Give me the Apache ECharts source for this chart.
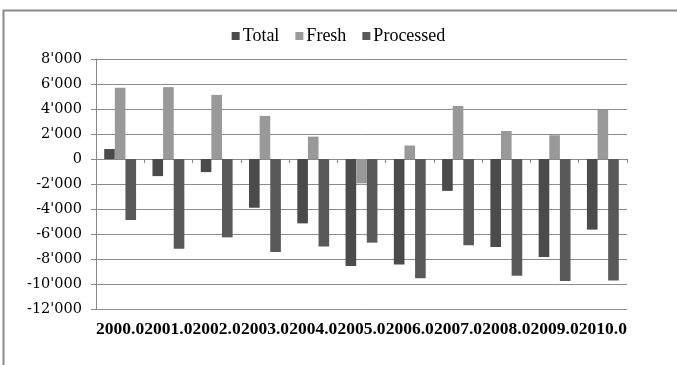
<!DOCTYPE html>
<html>
<head>
<meta charset="utf-8">
<script src="https://cdn.jsdelivr.net/npm/echarts@6/dist/echarts.min.js"></script>
<style>
html,body{margin:0;padding:0;background:#fff;}
#chart{width:677px;height:365px;}
</style>
</head>
<body>
<div id="chart"></div>
<script>
const categories = ['2000.0','2001.0','2002.0','2003.0','2004.0','2005.0','2006.0','2007.0','2008.0','2009.0','2010.0'];
const totalValues = [800, -1370, -1050, -3900, -5150, -8560, -8430, -2550, -7040, -7840, -5650];
const freshValues = [5700, 5750, 5130, 3450, 1790, -1950, 1080, 4240, 2240, 1900, 3920];
const processedValues = [-4880, -7170, -6270, -7440, -6990, -6690, -9530, -6900, -9340, -9760, -9710];
const yMin = -12000, yMax = 8000, yStep = 2000;

function fmt(v){
  const s = Math.abs(v).toString();
  const out = s.length > 3 ? s.slice(0, s.length-3) + "'" + s.slice(s.length-3) : s;
  return (v < 0 ? '-' : '') + out;
}

const chart = echarts.init(document.getElementById('chart'));
chart.setOption({
  animation: false,
  backgroundColor: '#ffffff',
  graphic: [{
    type: 'rect', shape: {x: 3.5, y: 10.5, width: 720, height: 420},
    style: {fill: 'none', stroke: '#8a8a8a', lineWidth: 2}, z: -1
  }],
  legend: {
    top: 22, left: 'center',
    itemWidth: 8, itemHeight: 8, itemGap: 16,
    icon: 'rect',
    textStyle: {fontFamily: 'Liberation Serif', fontSize: 18, color: '#000', padding: [0,0,0,-2]},
    data: ['Total','Fresh','Processed']
  },
  grid: {left: 96, right: 50, top: 59, bottom: 56, containLabel: false},
  xAxis: [{
    type: 'category', data: categories,
    axisLine: {onZero: true, lineStyle: {color: '#888', width: 1}},
    axisTick: {show: true, length: 4, lineStyle: {color: '#888'}},
    axisLabel: {show: false}
  },{
    type: 'category', data: categories, position: 'bottom',
    axisLine: {show: false, onZero: false}, axisTick: {show: false},
    axisLabel: {show: true, interval: 0, margin: 11, color: '#000', fontFamily: 'Liberation Serif', fontWeight: 'bold', fontSize: 17.5}
  }],
  yAxis: {
    type: 'value', min: yMin, max: yMax, interval: yStep,
    axisLine: {show: true, lineStyle: {color: '#888'}},
    axisTick: {show: true, length: 5, lineStyle: {color: '#888'}},
    splitLine: {lineStyle: {color: '#8c8c8c', width: 1}},
    axisLabel: {formatter: fmt, color: '#000', fontFamily: 'DejaVu Serif', fontSize: 14.5, margin: 14}
  },
  series: [
    {name: 'Total', type: 'bar', data: totalValues, itemStyle: {color: '#4b4b4b'}, barGap: '0%', barCategoryGap: '34%'},
    {name: 'Fresh', type: 'bar', data: freshValues, itemStyle: {color: '#999999'}, barGap: '0%', barCategoryGap: '34%'},
    {name: 'Processed', type: 'bar', data: processedValues, itemStyle: {color: '#595959'}, barGap: '0%', barCategoryGap: '34%'}
  ]
});
</script>
</body>
</html>
